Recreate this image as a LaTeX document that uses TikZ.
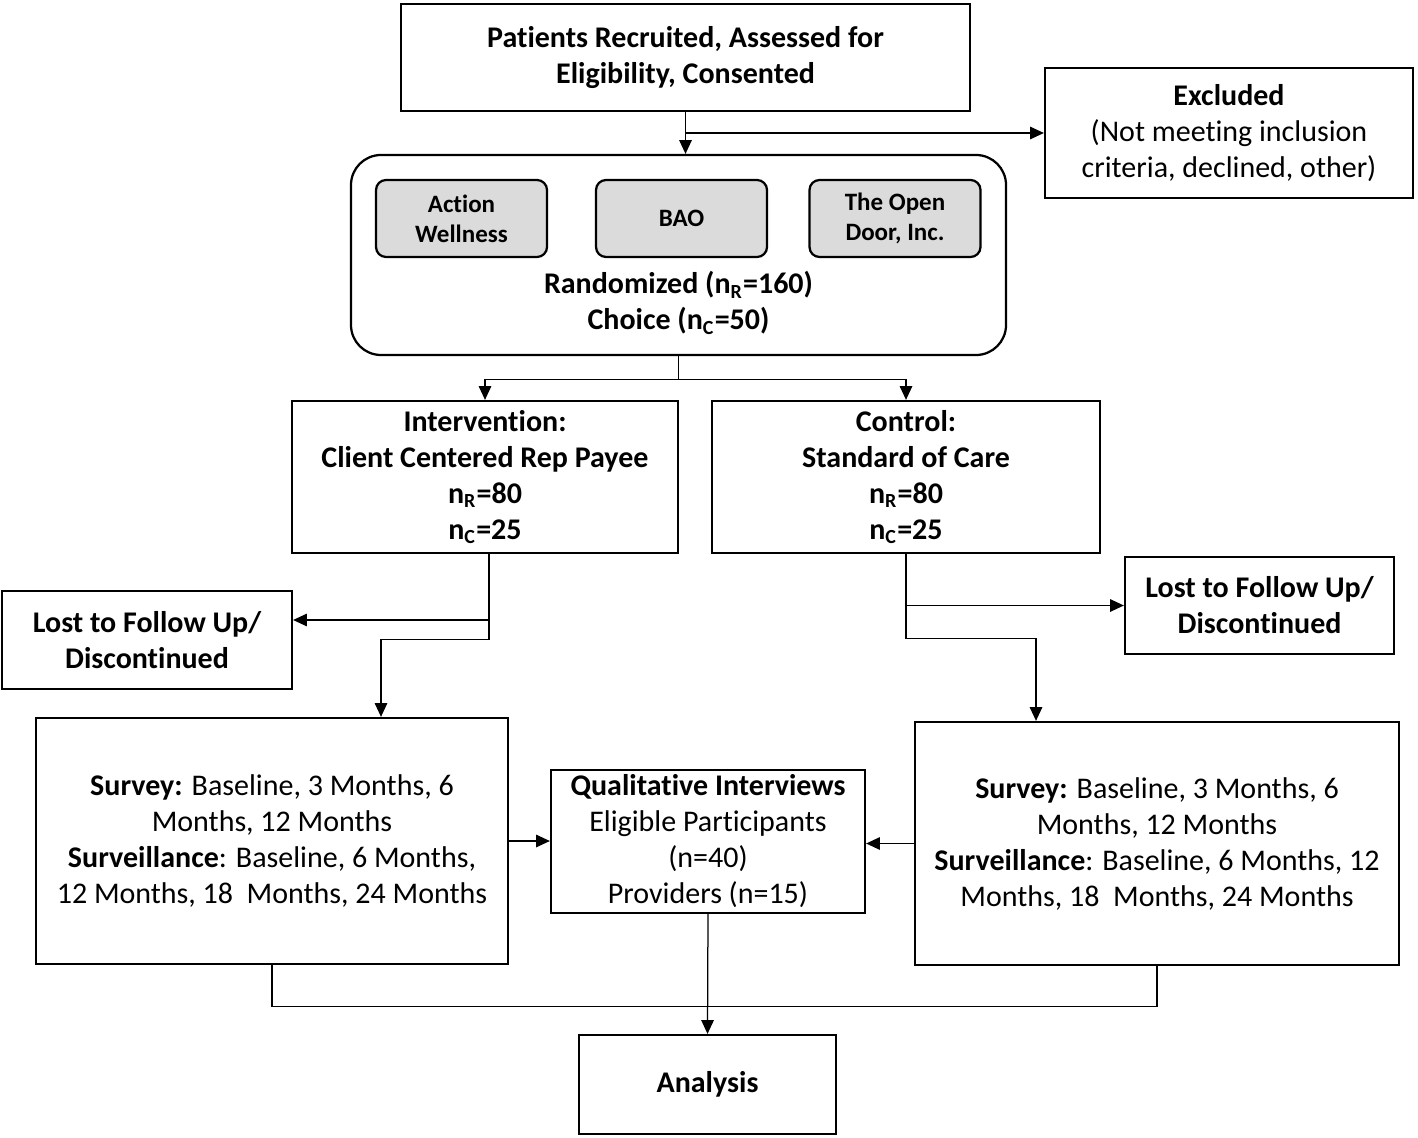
\documentclass[tikz,border=0pt]{standalone}
\usepackage{fontspec}
\setmainfont[Ligatures=NoCommon]{Carlito}
\usetikzlibrary{arrows.meta,positioning}

\newcommand{\flowfont}{\fontsize{12}{14.4}\selectfont}

\tikzset{
  box/.style={draw, line width=0.9pt, align=center, inner sep=2pt, font=\flowfont},
  boldbox/.style={box, font=\flowfont\bfseries},
  sitebox/.style={draw, line width=0.9pt, rounded corners=4pt, fill=gray!28,
    align=center, minimum width=68.4pt, minimum height=30.8pt,
    font=\fontsize{10}{12}\selectfont\bfseries},
  conn/.style={draw, line width=0.5pt},
  arr/.style={conn, -{Triangle[length=5.5pt,width=5pt]}},
}

\begin{document}
\begin{tikzpicture}[x=0.4pt, y=-0.4pt]
    \useasboundingbox (0,0) rectangle (1418,1138);

    % recruitment and randomisation
    \node[boldbox, minimum width=227.6pt, minimum height=42.8pt] (recruit) at (685.5,57.5)
        {Patients Recruited, Assessed for\\Eligibility, Consented};
    \node[box, minimum width=147.2pt, minimum height=52pt] (excl) at (1229,133)
        {\textbf{Excluded}\\(Not meeting inclusion\\criteria, declined, other)};
    \node[draw, line width=0.9pt, rounded corners=12pt, minimum width=262pt, minimum height=80pt] (rand) at (678.5,255) {};
    \node[sitebox] (aw) at (461.5,218.5) {Action\\Wellness};
    \node[sitebox] (bao) at (681.5,218.5) {BAO};
    \node[sitebox] (tod) at (895,218.5) {The Open\\Door, Inc.};
    \node[align=center, font=\flowfont\bfseries] (randtxt) at (678.5,303)
        {Randomized (n\textsubscript{R}=160)\\Choice (n\textsubscript{C}=50)};

    % study arms
    \node[boldbox, minimum width=154.4pt, minimum height=60.8pt] (interv) at (485,477)
        {Intervention:\\Client Centered Rep Payee\\n\textsubscript{R}=80\\n\textsubscript{C}=25};
    \node[boldbox, minimum width=155.2pt, minimum height=60.8pt] (ctrl) at (906,477)
        {Control:\\Standard of Care\\n\textsubscript{R}=80\\n\textsubscript{C}=25};
    \node[boldbox, minimum width=116pt, minimum height=39.2pt] (lostL) at (147,640)
        {Lost to Follow Up/\\Discontinued};
    \node[boldbox, minimum width=107.6pt, minimum height=38.8pt] (lostR) at (1259.5,605.5)
        {Lost to Follow Up/\\Discontinued};

    % data collection
    \node[box, minimum width=188.8pt, minimum height=98.4pt] (survL) at (272,841)
        {\textbf{Survey:} Baseline, 3 Months, 6\\Months, 12 Months\\\textbf{Surveillance}: Baseline, 6 Months,\\12 Months, 18~ Months, 24 Months};
    \node[box, minimum width=125.6pt, minimum height=56.4pt] (qual) at (708,841.5)
        {\textbf{Qualitative Interviews}\\Eligible Participants\\(n=40)\\Providers (n=15)};
    \node[box, minimum width=193.6pt, minimum height=97.2pt] (survR) at (1157,843.5)
        {\textbf{Survey:} Baseline, 3 Months, 6\\Months, 12 Months\\\textbf{Surveillance}: Baseline, 6 Months, 12\\Months, 18~ Months, 24 Months};
    \node[boldbox, minimum width=102.8pt, minimum height=39.6pt] (anal) at (707.5,1084.5) {Analysis};

    % connectors
    \coordinate (ivdrop) at (489,620);
    \draw[arr] (recruit.south) -- (recruit.south |- rand.north);
    \draw[arr] (recruit.south |- excl.west) -- (excl.west);
    \draw[arr] (rand.south) -- ++(0,23) -| (interv.north);
    \draw[arr] (rand.south) -- ++(0,23) -| (ctrl.north);
    \draw[arr] (ivdrop) -- (lostL.east |- ivdrop);
    \draw[arr] (ivdrop |- interv.south) -- ++(0,85) -| (381,0 |- survL.north);
    \draw[arr] (ctrl.south |- lostR.west) -- (lostR.west);
    \draw[arr] (ctrl.south) -- ++(0,84) -| (1036,0 |- survR.north);
    \draw[arr] (survL.east) -- (survL.east -| qual.west);
    \draw[arr] (survR.west) -- (survR.west -| qual.east);
    \draw[conn] (survL.south) -- ++(0,41) -| (survR.south);
    \draw[arr] (qual.south) -- (anal.north);
\end{tikzpicture}
\end{document}
